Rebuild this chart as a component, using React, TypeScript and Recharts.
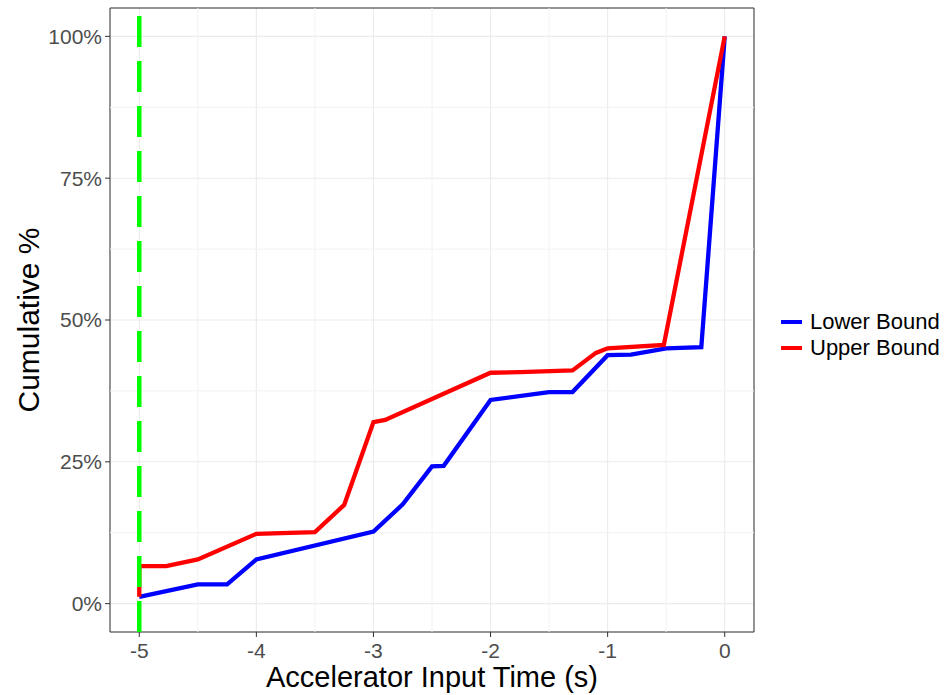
import React from 'react';
import {
  LineChart, Line, XAxis, YAxis, CartesianGrid, ReferenceLine, ReferenceArea, Label,
} from 'recharts';

// cumulative % vs accelerator input time
const lowerBound = [
  { t: -5, v: 1.2 },
  { t: -4.5, v: 3.4 },
  { t: -4.25, v: 3.4 },
  { t: -4, v: 7.8 },
  { t: -3, v: 12.7 },
  { t: -2.75, v: 17.5 },
  { t: -2.5, v: 24.2 },
  { t: -2.4, v: 24.3 },
  { t: -2, v: 35.9 },
  { t: -1.5, v: 37.3 },
  { t: -1.3, v: 37.3 },
  { t: -1, v: 43.8 },
  { t: -0.8, v: 43.9 },
  { t: -0.5, v: 45 },
  { t: -0.2, v: 45.2 },
  { t: 0, v: 100 },
];

const upperBound = [
  { t: -5, v: 1.2 },
  { t: -5, v: 6.6 },
  { t: -4.77, v: 6.6 },
  { t: -4.5, v: 7.8 },
  { t: -4, v: 12.3 },
  { t: -3.5, v: 12.6 },
  { t: -3.25, v: 17.4 },
  { t: -3, v: 32 },
  { t: -2.9, v: 32.4 },
  { t: -2, v: 40.7 },
  { t: -1.75, v: 40.8 },
  { t: -1.3, v: 41.1 },
  { t: -1.1, v: 44.2 },
  { t: -1, v: 45 },
  { t: -0.52, v: 45.6 },
  { t: 0, v: 100 },
];

const xTicks = [-5, -4, -3, -2, -1, 0];
const yTicks = [0, 25, 50, 75, 100];
const xMinor = [-4.5, -3.5, -2.5, -1.5, -0.5];
const yMinor = [12.5, 37.5, 62.5, 87.5];
const cutoff = -5;

const FONT = '"Liberation Sans", Arial, sans-serif';
const tickStyle = { fontSize: 21, fill: '#4D4D4D', fontFamily: FONT };

const legendItems = [
  { name: 'Lower Bound', color: '#0000FF' },
  { name: 'Upper Bound', color: '#FF0000' },
];

export default function App() {
  return (
    <div style={{ position: 'absolute', left: 0, top: 0, width: 950, height: 695, background: '#fff', fontFamily: FONT }}>
      <LineChart width={760} height={695} margin={{ top: 8, right: 6, bottom: 0, left: 0 }}>
        <CartesianGrid stroke="#EBEBEB" strokeWidth={1.1} />
        {xMinor.map(x => (
          <ReferenceLine key={'mx' + x} x={x} stroke="#F2F2F2" strokeWidth={1} />
        ))}
        {yMinor.map(y => (
          <ReferenceLine key={'my' + y} y={y} stroke="#F2F2F2" strokeWidth={1} />
        ))}
        <XAxis
          type="number"
          dataKey="t"
          domain={[-5.25, 0.25]}
          ticks={xTicks}
          allowDataOverflow
          height={63}
          axisLine={false}
          tickLine={{ stroke: '#333333' }}
          tickSize={5}
          tickMargin={6}
          tick={tickStyle}
        >
          <Label
            value="Accelerator Input Time (s)"
            position="insideBottom"
            offset={8}
            style={{ fontSize: 29, fill: '#000', fontFamily: FONT }}
          />
        </XAxis>
        <YAxis
          type="number"
          domain={[-5, 105]}
          ticks={yTicks}
          allowDataOverflow
          width={110}
          axisLine={false}
          tickLine={{ stroke: '#333333' }}
          tickSize={5}
          tickMargin={3}
          tick={tickStyle}
          tickFormatter={v => `${v}%`}
        >
          <Label
            content={(props: any) => {
              const vb = props.viewBox;
              const cy = vb.y + vb.height / 2;
              return (
                <text
                  x={28}
                  y={cy}
                  transform={`rotate(-90, 28, ${cy})`}
                  textAnchor="middle"
                  dominantBaseline="central"
                  style={{ fontSize: 30, fill: '#000', fontFamily: FONT }}
                >
                  Cumulative %
                </text>
              );
            }}
          />
        </YAxis>
        <ReferenceArea x1={-5.25} x2={0.25} y1={-5} y2={105} fill="none" stroke="#333333" strokeWidth={1} />
        <Line data={lowerBound} dataKey="v" type="linear" stroke="#0000FF" strokeWidth={4.3} dot={false} isAnimationActive={false} />
        <Line data={upperBound} dataKey="v" type="linear" stroke="#FF0000" strokeWidth={4.3} dot={false} isAnimationActive={false} />
        <ReferenceLine x={cutoff} stroke="#00FF00" strokeWidth={4.5} strokeDasharray="31 14" />
      </LineChart>

      {/* legend */}
      <div style={{ position: 'absolute', left: 781, top: 309 }}>
        {legendItems.map(item => (
          <div key={item.name} style={{ display: 'flex', alignItems: 'center', height: 26 }}>
            <div style={{ width: 21, height: 4, background: item.color, marginRight: 8 }} />
            <span style={{ fontSize: 22, color: '#000', lineHeight: '26px' }}>{item.name}</span>
          </div>
        ))}
      </div>
    </div>
  );
}
